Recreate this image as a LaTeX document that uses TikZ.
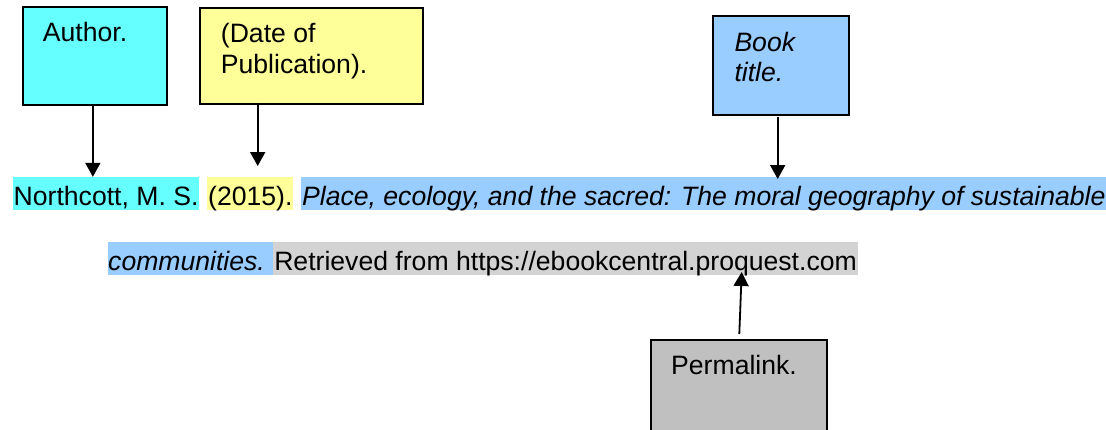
\documentclass[tikz,border=0pt]{standalone}
\usepackage{fontspec}
\setmainfont{Liberation Sans}
\usetikzlibrary{arrows.meta}
\definecolor{cyanH}{HTML}{66FFFF}
\definecolor{yellowH}{HTML}{FFFF99}
\definecolor{blueH}{HTML}{99CCFF}
\definecolor{grayBox}{HTML}{C0C0C0}
\definecolor{grayH}{HTML}{D3D3D3}
\tikzset{
  box/.style={draw=black, line width=2pt, inner sep=0pt, anchor=north west},
  lbl/.style={inner sep=0pt, anchor=base west, font=\fontsize{26.6}{30.5}\selectfont},
  hl/.style={inner xsep=1pt, inner ysep=0pt, text height=28pt, text depth=4.5pt, anchor=base west, font=\fontsize{26.6}{30.5}\selectfont},
  arr/.style={line width=1.8pt, -{Triangle[width=15pt,length=14pt]}}
}
\begin{document}
\begin{tikzpicture}[x=1pt,y=-1pt]
\useasboundingbox (0,0) rectangle (1106,429);
\clip (0,0) rectangle (1106,429);
% boxes
\node[box, fill=cyanH, minimum width=144.3pt, minimum height=98.3pt] (author) at (21.7,5.7) {};
\node[lbl] (authorT) at (42.7,41.7) {Author.};
\node[box, fill=yellowH, minimum width=222.7pt, minimum height=95.5pt] (date) at (199,7) {};
\node[lbl] (dateT1) at (220.7,42.7) {(Date of};
\node[lbl] (dateT2) at (220.7,73.3) {Publication).};
\node[box, fill=blueH, minimum width=136.6pt, minimum height=99pt] (book) at (711.7,15.3) {};
\node[lbl, font=\fontsize{26.6}{30.5}\selectfont\itshape] (bookT1) at (734.3,51.7) {Book};
\node[lbl, font=\fontsize{26.6}{30.5}\selectfont\itshape] (bookT2) at (734.3,81.7) {title.};
\node[box, fill=grayBox, minimum width=176pt, minimum height=110pt] (perma) at (650,339) {};
\node[lbl] (permaT) at (671,374) {Permalink.};
% reference line 1
\node[hl, fill=cyanH] (n1) at (12.5,205) {Northcott, M. S.};
\node[hl, fill=yellowH] (n2) at ([xshift=7.3pt]n1.base east) {(2015).};
\node[hl, fill=blueH] (n3) at ([xshift=7.3pt]n2.base east) {\itshape Place, ecology, and the sacred: The moral geography of sustainable};
% reference line 2
\node[hl, fill=blueH, inner xsep=0pt] (m1) at (108,270) {\itshape communities.\kern8pt};
\node[hl, fill=grayH] (m2) at (m1.base east) {Retrieved from https://ebookcentral.proquest.com};
% arrow coordinates
\coordinate (dateTip) at (257.7,166);
\coordinate (dateStart) at (257.7,102.5);
\coordinate (bookStart) at (777.7,116.7);
\coordinate (bookTip) at (777.7,179);
\coordinate (permaStart) at (739.3,334);
\coordinate (permaTip) at (741.7,272);
% arrows
\draw[arr] ([xshift=-2pt]author.south) -- ([xshift=-2pt]author.south |- n1.north);
\draw[arr] (dateStart) -- (dateTip);
\draw[arr] (bookStart) -- (bookTip);
\draw[arr] (permaStart) -- (permaTip);
\end{tikzpicture}
\end{document}
